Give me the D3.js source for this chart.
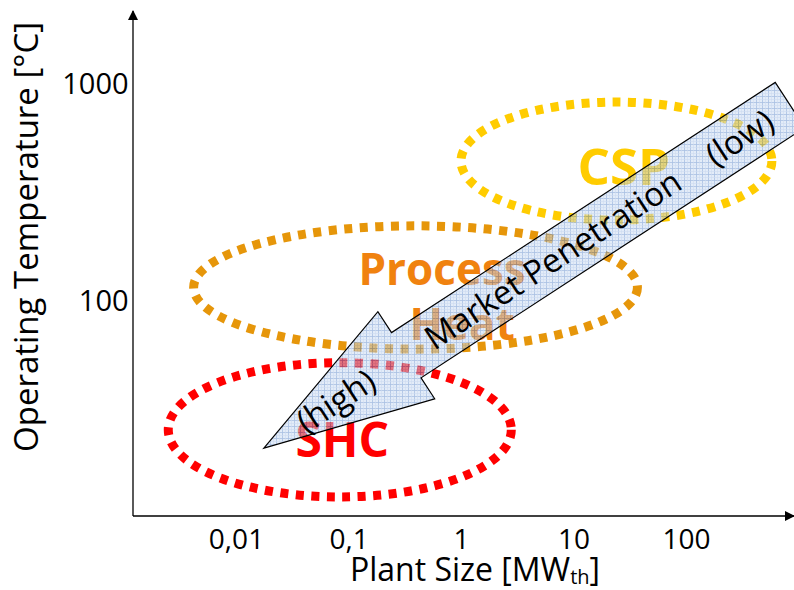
<!DOCTYPE html>
<html>
<head>
<meta charset="utf-8">
<script src="https://cdn.jsdelivr.net/npm/d3@7"></script>
<style>
  body { margin: 0; background: #fff; }
  svg { display: block; font-family: "Open Sans", sans-serif; }
</style>
</head>
<body>
<div id="chart"></div>
<script>
// tick values and labels
var sizeTicks = [0.01, 0.1, 1, 10, 100];
var sizeTickLabels = ["0,01", "0,1", "1", "10", "100"];
var tempTicks = [100, 1000];
var tempTickLabels = ["100", "1000"];

// regions: plant size range [MW], temperature range [°C]
var regionNames = ["CSP", "Process Heat", "SHC"];
var regionSize = [[1.0, 580], [0.0042, 37], [0.0025, 2.8]];
var regionTemp = [[236, 826], [60, 222], [12.5, 52]];
var regionLabelAt = [[28, 415], [0.8, 112], [0.088, 23]];
var regionStroke = ["#FFCC00", "#E6960A", "#FF0000"];
var regionText = ["#FFCC00", "#F0820F", "#FF0000"];

// arrow: tip (high penetration) -> tail (low penetration)
var arrowTip = [0.0177, 21];
var arrowTail = [840, 800];

var W = 794, H = 590;

var svg = d3.select("#chart").append("svg")
  .attr("width", W)
  .attr("height", H);

var x = d3.scaleLog().domain([0.01, 100]).range([236, 686]);
var y = d3.scaleLog().domain([10, 1000]).range([518, 84]);

var x0 = 133, yAxisY = 516;

var defs = svg.append("defs");
defs.append("marker")
  .attr("id", "head")
  .attr("viewBox", "0 0 10 10")
  .attr("refX", 9).attr("refY", 5)
  .attr("markerWidth", 10).attr("markerHeight", 10)
  .attr("markerUnits", "userSpaceOnUse")
  .attr("orient", "auto")
  .append("path").attr("d", "M0,0 L10,5 L0,10 z").attr("fill", "#000");

var pat = defs.append("pattern")
  .attr("id", "grid")
  .attr("patternUnits", "userSpaceOnUse")
  .attr("width", 6).attr("height", 6);
pat.append("rect").attr("width", 6).attr("height", 6).attr("fill", "#c9dbf2");
pat.append("path").attr("d", "M0,0.5 H6 M0.5,0 V6").attr("stroke", "#5b87c9").attr("stroke-width", 0.8);
pat.append("path").attr("d", "M0,3.5 H6 M3.5,0 V6").attr("stroke", "#9fbbe2").attr("stroke-width", 0.6);

// axes lines with arrows
svg.append("line")
  .attr("x1", x0).attr("y1", yAxisY).attr("x2", x0).attr("y2", 11)
  .attr("stroke", "#000").attr("stroke-width", 1.3)
  .attr("marker-end", "url(#head)");
svg.append("line")
  .attr("x1", x0).attr("y1", yAxisY).attr("x2", 794).attr("y2", yAxisY)
  .attr("stroke", "#000").attr("stroke-width", 1.3)
  .attr("marker-end", "url(#head)");

// tick labels via axes
var xAxis = d3.axisBottom(x).tickValues(sizeTicks).tickSize(0)
  .tickFormat(function (d, i) { return sizeTickLabels[i]; });
var gx = svg.append("g").attr("transform", "translate(0," + yAxisY + ")").call(xAxis);
gx.select(".domain").remove();
gx.selectAll("text").attr("font-size", 28).attr("font-family", "Open Sans").attr("fill", "#000")
  .attr("y", 0).attr("dy", 0).attr("transform", "translate(0,33)");

var yAxis = d3.axisLeft(y).tickValues(tempTicks).tickSize(0)
  .tickFormat(function (d, i) { return tempTickLabels[i]; });
var gy = svg.append("g").attr("transform", "translate(" + x0 + ",0)").call(yAxis);
gy.select(".domain").remove();
gy.selectAll("text").attr("font-size", 29).attr("font-family", "Open Sans").attr("fill", "#000").attr("dx", "-0.05em");

// axis titles
var xt = svg.append("text")
  .attr("x", 475).attr("y", 581)
  .attr("text-anchor", "middle")
  .attr("font-size", 32);
xt.append("tspan").text("Plant Size [MW");
xt.append("tspan").attr("font-size", 20).attr("dy", 3).text("th");
xt.append("tspan").attr("dy", -3).text("]");

svg.append("text")
  .attr("transform", "translate(38,237) rotate(-90)")
  .attr("text-anchor", "middle")
  .attr("font-size", 33)
  .text("Operating Temperature [°C]");

// dotted ellipses
regionNames.forEach(function (name, i) {
  var xa = x(regionSize[i][0]), xb = x(regionSize[i][1]);
  var ya = y(regionTemp[i][1]), yb = y(regionTemp[i][0]);
  svg.append("ellipse")
    .attr("cx", (xa + xb) / 2).attr("cy", (ya + yb) / 2)
    .attr("rx", (xb - xa) / 2).attr("ry", (yb - ya) / 2)
    .attr("fill", "none")
    .attr("stroke", regionStroke[i])
    .attr("stroke-width", 9)
    .attr("stroke-dasharray", "8 7.5");
});

// region labels
regionNames.forEach(function (name, i) {
  var words = name.split(" ");
  var t = svg.append("text")
    .attr("x", x(regionLabelAt[i][0]))
    .attr("y", y(regionLabelAt[i][1]))
    .attr("text-anchor", "middle")
    .attr("font-weight", "bold")
    .attr("font-size", words.length > 1 ? 44 : (name === "CSP" ? 51 : 48))
    .attr("fill", regionText[i]);
  if (words.length > 1) {
    t.append("tspan").attr("x", x(regionLabelAt[i][0]) - 8).attr("dy", "-0.12em").text(words[0]);
    t.append("tspan").attr("x", x(regionLabelAt[i][0]) + 12).attr("dy", "1.25em").text(words[1]);
  } else {
    t.attr("dy", "0.36em").text(name);
  }
});

// market penetration arrow
var tip = [x(arrowTip[0]), y(arrowTip[1])];
var tail = [x(arrowTail[0]), y(arrowTail[1])];
var len = Math.hypot(tail[0] - tip[0], tail[1] - tip[1]);
var u = [(tail[0] - tip[0]) / len, (tail[1] - tip[1]) / len];
var n = [-u[1], u[0]];
var headLen = 170, headHalf = 52, shaftHalf = 27;
function pt(a, b) { return [tip[0] + u[0] * a + n[0] * b, tip[1] + u[1] * a + n[1] * b]; }
var poly = [
  pt(0, 0),
  pt(headLen, headHalf), pt(headLen, shaftHalf),
  pt(len, shaftHalf), pt(len, -shaftHalf),
  pt(headLen, -shaftHalf), pt(headLen, -headHalf)
];
svg.append("path")
  .attr("d", d3.line()(poly) + "Z")
  .attr("fill", "url(#grid)")
  .attr("fill-opacity", 0.52)
  .attr("stroke", "#000")
  .attr("stroke-width", 1.2);

var ang = Math.atan2(u[1], u[0]) * 180 / Math.PI;
var arrowTexts = [["(high)", 86], ["Market Penetration", 345], ["(low)", 568]];
arrowTexts.forEach(function (d) {
  var p = pt(d[1], 0);
  svg.append("text")
    .attr("transform", "translate(" + p[0] + "," + p[1] + ") rotate(" + ang + ")")
    .attr("text-anchor", "middle")
    .attr("dy", "0.35em")
    .attr("font-size", 33)
    .attr("fill", "#000")
    .text(d[0]);
});
</script>
</body>
</html>
